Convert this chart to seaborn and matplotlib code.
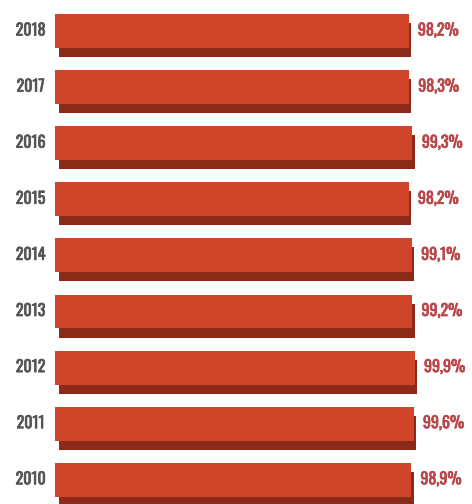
import numpy as np
import pandas as pd
import matplotlib
matplotlib.use("Agg")
import matplotlib.pyplot as plt
import matplotlib.patheffects as pe
import seaborn as sns

years = ["2018", "2017", "2016", "2015", "2014", "2013", "2012", "2011", "2010"]
values = [98.2, 98.3, 99.3, 98.2, 99.1, 99.2, 99.9, 99.6, 98.9]
labels = ["98,2%", "98,3%", "99,3%", "98,2%", "99,1%", "99,2%", "99,9%", "99,6%", "98,9%"]

sns.set_theme(style="white")
plt.rcParams["font.family"] = ["Oswald", "Roboto Condensed", "DejaVu Sans"]

df = pd.DataFrame({"year": years, "value": values})

W, H = 472, 504
fig = plt.figure(figsize=(W / 100, H / 100), dpi=100)
left_px = 55
ax = fig.add_axes([left_px / W, 0, 1 - left_px / W, 1])

px_per_unit = 3.6
row_px = 56.1
bar_h = 34 / row_px
shadow_off = 9 / row_px

front = "#d0442a"
shade = "#8c2a1a"
pct_color = "#b8474a"
year_color = "#555555"

# darker underside giving the bars their raised look
ax.barh(np.arange(len(years)) + shadow_off, np.array(values) - 0.3, height=bar_h, left=1.0,
        color=shade, linewidth=0, zorder=1)
sns.barplot(data=df, y="year", x="value", order=years, orient="h",
            color=front, width=bar_h, saturation=1, linewidth=0, ax=ax, zorder=2)

ax.set_xlim(0, (W - left_px) / px_per_unit)
first_center = 31
ax.set_ylim(len(years) - 1 + (H - (first_center + row_px * (len(years) - 1))) / row_px,
            -first_center / row_px)

for i, (v, lab) in enumerate(zip(values, labels)):
    ax.text(v + 2.6, i, lab, ha="left", va="center", fontsize=11.5,
            color=pct_color, zorder=3,
            path_effects=[pe.withStroke(linewidth=0.5, foreground=pct_color)])
    ax.text(-(left_px - 30.5) / px_per_unit, i, years[i], ha="center", va="center",
            fontsize=11.5, color=year_color, clip_on=False, zorder=3,
            path_effects=[pe.withStroke(linewidth=0.5, foreground=year_color)])

ax.set_xlabel("")
ax.set_ylabel("")
ax.set_xticks([])
ax.set_yticks([])
for s in ax.spines.values():
    s.set_visible(False)

fig.savefig("out.png", dpi=100, facecolor="white")
